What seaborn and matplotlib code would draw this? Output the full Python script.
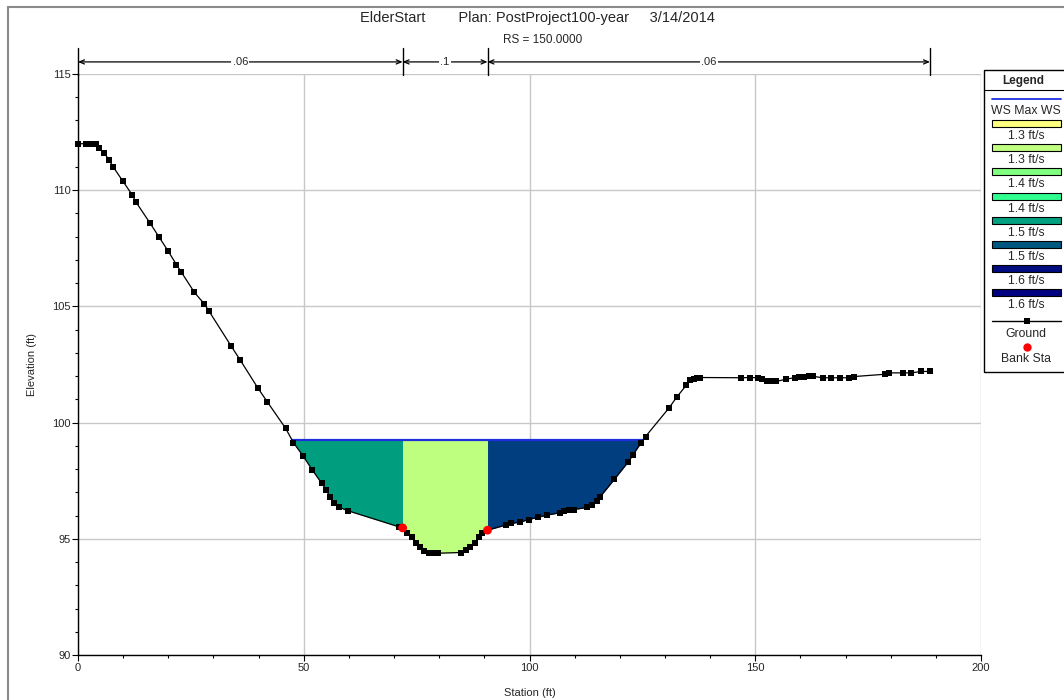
import numpy as np
import matplotlib
matplotlib.use("Agg")
import matplotlib.pyplot as plt
from matplotlib.patches import Rectangle
from matplotlib.lines import Line2D
import seaborn as sns

# ---------------- data ----------------
station = [0, 1.8, 2.5, 3.2, 4.0, 4.7, 5.8, 6.9, 7.8, 9.9,
           12.0, 12.8, 15.9, 17.9, 19.9, 21.8, 22.8, 25.8, 28.0, 29.0,
           33.9, 35.9, 39.8, 41.9, 46.0, 47.7, 49.8, 51.9, 54.0, 55.0,
           55.8, 56.8, 57.9, 59.9, 71.0, 71.9, 72.9, 73.9, 74.8, 75.7,
           76.7, 77.7, 78.7, 79.8, 84.8, 85.9, 86.9, 87.9, 88.9, 89.5,
           90.7, 94.9, 96.0, 98.0, 99.8, 101.8, 103.9, 106.7, 107.6, 108.7,
           109.8, 112.8, 113.8, 114.9, 115.7, 118.8, 121.9, 122.9, 124.7, 125.7,
           130.9, 132.7, 134.7, 135.6, 136.4, 137.1, 137.8, 146.8, 148.8, 150.5,
           151.6, 152.6, 153.6, 154.7, 156.8, 158.7, 159.7, 160.8, 161.8, 162.9,
           164.9, 166.7, 168.7, 170.7, 171.8, 178.7, 179.7, 182.8, 184.6, 186.7, 188.7]
elevation = [112.0, 112.0, 112.0, 112.0, 112.0, 111.8, 111.6, 111.3, 111.0, 110.4,
             109.8, 109.5, 108.6, 108.0, 107.4, 106.8, 106.5, 105.6, 105.1, 104.8,
             103.3, 102.7, 101.5, 100.9, 99.75, 99.14, 98.58, 97.96, 97.38, 97.1,
             96.8, 96.56, 96.35, 96.2, 95.52, 95.47, 95.27, 95.09, 94.84, 94.63,
             94.48, 94.41, 94.38, 94.38, 94.41, 94.5, 94.65, 94.8, 95.06, 95.23,
             95.37, 95.6, 95.66, 95.72, 95.83, 95.92, 96.02, 96.12, 96.18, 96.22,
             96.26, 96.35, 96.45, 96.64, 96.82, 97.56, 98.32, 98.61, 99.13, 99.4,
             100.63, 101.12, 101.6, 101.82, 101.87, 101.9, 101.94, 101.93, 101.94, 101.93,
             101.87, 101.8, 101.77, 101.77, 101.87, 101.93, 101.95, 101.97, 101.99, 101.99,
             101.93, 101.93, 101.93, 101.93, 101.98, 102.08, 102.14, 102.14, 102.14, 102.2, 102.2]
bank_sta = [71.9, 90.7]
bank_elev = [95.47, 95.37]
ws_max = 99.27
n_breaks = [0, 71.9, 90.7, 188.7]
n_values = [".06", ".1", ".06"]
legend_vel = ["1.3 ft/s", "1.3 ft/s", "1.4 ft/s", "1.4 ft/s",
              "1.5 ft/s", "1.5 ft/s", "1.6 ft/s", "1.6 ft/s"]
legend_colors = ["#FFFF80", "#C0FF80", "#80FF80", "#30FF90",
                 "#00A080", "#005880", "#000C80", "#000080"]
fill_colors = ["#009E7F", "#BFFF7F", "#003E7F"]  # left overbank, channel, right overbank

# ---------------- style ----------------
sns.set_style("white")
plt.rcParams["font.family"] = ["Liberation Sans", "DejaVu Sans"]

W, H = 1064, 700
fig = plt.figure(figsize=(W / 100, H / 100), dpi=100)

def fx(px):
    return px / W

def fy(py):
    return 1 - py / H

ax = fig.add_axes([fx(78), fy(655), fx(981) - fx(78), fy(74) - fy(655)])

x = np.array(station)
g = np.array(elevation)

# water-surface intercepts with the ground
below = np.where(g <= ws_max)[0]
i0, i1 = below[0], below[-1]
xl = np.interp(ws_max, [g[i0], g[i0 - 1]], [x[i0], x[i0 - 1]])
xr = np.interp(ws_max, [g[i1], g[i1 + 1]], [x[i1], x[i1 + 1]])

# water fills per sub-section
bounds = [(xl, bank_sta[0]), (bank_sta[0], bank_sta[1]), (bank_sta[1], xr)]
for (a, b), c in zip(bounds, fill_colors):
    m = (x >= a) & (x <= b)
    xs = np.concatenate([[a], x[m], [b]])
    gs = np.concatenate([[np.interp(a, x, g)], g[m], [np.interp(b, x, g)]])
    gs = np.minimum(gs, ws_max)
    ax.fill_between(xs, gs, ws_max, color=c, linewidth=0, zorder=2)

# WS line
ax.plot([xl, xr], [ws_max, ws_max], color="#1F2FE0", lw=1.6, zorder=3)

# ground
sns.lineplot(x=station, y=elevation, ax=ax, color="black", lw=0.9,
             marker="s", markersize=4.4, markeredgewidth=0, estimator=None,
             sort=False, zorder=4, clip_on=False)
# bank stations
sns.scatterplot(x=bank_sta, y=bank_elev, ax=ax, color="red", s=40,
                edgecolor="none", zorder=5)

# axes
ax.set_xlim(0, 200)
ax.set_ylim(90, 115)
ax.set_xticks([0, 50, 100, 150, 200])
ax.set_xticks(np.arange(0, 201, 10), minor=True)
ax.set_yticks([90, 95, 100, 105, 110, 115])
ax.set_yticks(np.arange(90, 116, 1), minor=True)
ax.grid(True, which="major", color="#C8C8C8", lw=1.0, zorder=0)
ax.set_axisbelow(True)
for s in ["top", "right"]:
    ax.spines[s].set_visible(False)
for s in ["left", "bottom"]:
    ax.spines[s].set_color("black")
    ax.spines[s].set_linewidth(1.0)
    ax.spines[s].set_zorder(6)
ax.tick_params(which="major", direction="out", length=4, width=0.8,
               labelsize=8, pad=1.5, color="black", left=True, bottom=True)
ax.tick_params(which="minor", direction="out", length=2.5, width=0.8,
               color="black", left=True, bottom=True)
ax.set_xlabel("Station (ft)", fontsize=8, labelpad=11)
ax.set_ylabel("Elevation (ft)", fontsize=8, labelpad=11)

# Manning's n annotations above the plot
y_arrow = 115.52
for xb in n_breaks:
    ax.plot([xb, xb], [114.96, 116.12], color="black", lw=1.0, clip_on=False, zorder=6)
for i, lab in enumerate(n_values):
    a, b = n_breaks[i], n_breaks[i + 1]
    ax.annotate("", xy=(a, y_arrow), xytext=(b, y_arrow), annotation_clip=False,
                arrowprops=dict(arrowstyle="<->,head_length=0.35,head_width=0.15",
                                color="black", lw=0.9, shrinkA=0, shrinkB=0))
    ax.text((a + b) / 2, y_arrow, lab, ha="center", va="center", fontsize=8,
            bbox=dict(facecolor="white", edgecolor="none", pad=1.0), clip_on=False, zorder=7)

# titles
fig.text(fx(537), fy(18), "ElderStart        Plan: PostProject100-year     3/14/2014",
         ha="center", va="center", fontsize=10.5)
fig.text(fx(543), fy(40), "RS = 150.0000", ha="center", va="center", fontsize=8.5)

# figure border lines
fig.add_artist(Line2D([fx(8), fx(8)], [0, fy(7)], color="#8A8A8A", lw=1.5))
fig.add_artist(Line2D([fx(8), 1], [fy(7), fy(7)], color="#8A8A8A", lw=1.5))

# legend box (manual)
fig.add_artist(Rectangle((fx(984), fy(372)), fx(1075) - fx(984), fy(70) - fy(372),
                         transform=fig.transFigure, facecolor="white",
                         edgecolor="black", lw=1.0, zorder=10))
fig.text(fx(1023), fy(81), "Legend", ha="center", va="center", fontsize=8.5,
         fontweight="bold", zorder=11)
fig.add_artist(Line2D([fx(984), 1], [fy(90), fy(90)], color="black", lw=0.8, zorder=11))
fig.add_artist(Line2D([fx(992), fx(1061)], [fy(99), fy(99)], color="#1F2FE0", lw=1.3, zorder=11))
fig.text(fx(1026), fy(111), "WS Max WS", ha="center", va="center", fontsize=8.8, zorder=11)
for k, (lab, c) in enumerate(zip(legend_vel, legend_colors)):
    ys = 123.5 + k * 24.2
    fig.add_artist(Rectangle((fx(992), fy(ys + 3.5)), fx(1061) - fx(992), fy(ys - 3.5) - fy(ys + 3.5),
                             transform=fig.transFigure, facecolor=c, edgecolor="black",
                             lw=0.8, zorder=11))
    fig.text(fx(1026), fy(ys + 12.5), lab, ha="center", va="center", fontsize=8.8, zorder=11)
fig.add_artist(Line2D([fx(992), fx(1061)], [fy(321), fy(321)], color="black", lw=1.0, zorder=11))
fig.add_artist(Line2D([fx(1026.5)], [fy(321)], color="black", marker="s", markersize=4.4,
                      markeredgewidth=0, zorder=12))
fig.text(fx(1026), fy(334), "Ground", ha="center", va="center", fontsize=8.8, zorder=11)
fig.add_artist(Line2D([fx(1026.5)], [fy(347)], color="red", marker="o", markersize=6,
                      markeredgewidth=0, zorder=12))
fig.text(fx(1026), fy(359), "Bank Sta", ha="center", va="center", fontsize=8.8, zorder=11)

fig.savefig("out.png", dpi=100)
